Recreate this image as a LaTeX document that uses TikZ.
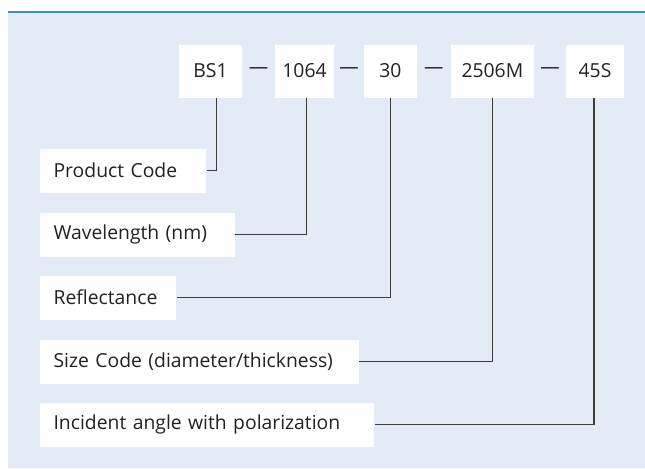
\documentclass[tikz,border=0pt]{standalone}
\usepackage{fontspec}
\setmainfont{Open Sans}
\usetikzlibrary{calc}
\definecolor{panelbg}{HTML}{E3EBF6}
\definecolor{toprule}{HTML}{3A8DC9}
\definecolor{wirecol}{HTML}{3C3C3C}
\definecolor{inkcol}{HTML}{222222}

\begin{document}
\begin{tikzpicture}[x=0.75pt,y=-0.75pt,
    every node/.style={font=\fontsize{14.5}{17}\selectfont,text=inkcol},
    codebox/.style={fill=white,inner sep=0pt,minimum height=39.75pt,minimum width=#1},
    namebox/.style={fill=white,anchor=west,inner xsep=10pt,inner ysep=0pt,
      minimum height=33pt,text width=#1,align=left},
    dashmark/.style={inner sep=0pt},
    wire/.style={draw=wirecol,line width=0.8pt}]
  \useasboundingbox (0,0) rectangle (645,468);
  \fill[panelbg] (8,12) rectangle (645,468);
  \draw[toprule,line width=1.5pt] (8,12) -- (645,12);

  % part number
  \node[codebox=47.25pt] (bs) at (210.5,71) {BS1};
  \node[codebox=44.25pt] (wl) at (304.5,71) {1064};
  \node[codebox=39.5pt] (rf) at (390.3,71) {30};
  \node[codebox=62.25pt] (sz) at (492.4,71) {2506M};
  \node[codebox=43.5pt] (ang) at (595,71) {45S};
  \foreach \a/\b [count=\i] in {bs/wl,wl/rf,rf/sz,sz/ang}
    \node[dashmark] (dash\i) at ($(\a.east)!.5!(\b.west)$) {---};

  % meanings
  \node[namebox=104.5pt] (prod) at (40,170.5) {Product Code};
  \node[namebox=126.2pt] (wave) at (40,234.5) {Wavelength (nm)};
  \node[namebox=82pt] (refl) at (40,297.5) {Reflectance};
  \node[namebox=219.2pt] (size) at (40,361.5) {Size Code (diameter/thickness)};
  \node[namebox=230.5pt] (inc) at (40,424.5) {Incident angle with polarization};

  \draw[wire] ([xshift=4.5pt]bs.south) |- (prod.east);
  \draw[wire] ([xshift=1.6pt]wl.south) |- (wave.east);
  \draw[wire] (rf.south) |- (refl.east);
  \draw[wire] (sz.south) |- (size.east);
  \draw[wire] ([xshift=-0.75pt]ang.south) |- (inc.east);
\end{tikzpicture}
\end{document}
